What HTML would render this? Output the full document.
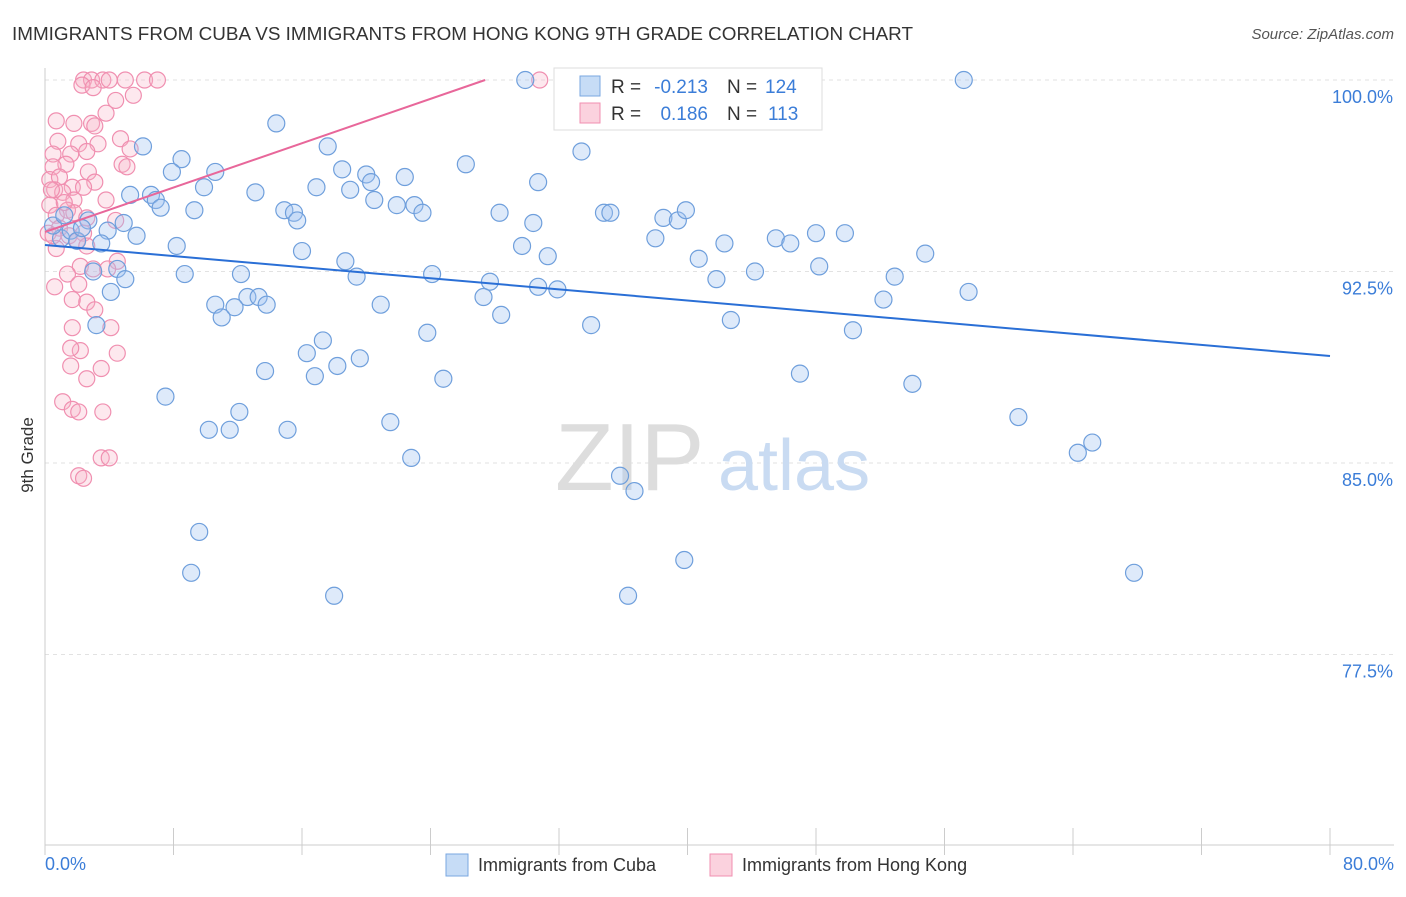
<!DOCTYPE html>
<html><head><meta charset="utf-8"><style>
body{margin:0;background:#fff;font-family:"Liberation Sans",sans-serif;}
svg text{font-family:"Liberation Sans",sans-serif;}
</style></head><body>
<svg width="1406" height="892" xmlns="http://www.w3.org/2000/svg">
<text x="12" y="40" font-size="18" fill="#333" textLength="901" lengthAdjust="spacingAndGlyphs">IMMIGRANTS FROM CUBA VS IMMIGRANTS FROM HONG KONG 9TH GRADE CORRELATION CHART</text>
<text x="1394" y="39" font-size="15" fill="#555" text-anchor="end" font-style="italic">Source: ZipAtlas.com</text>
<g id="grid"></g>
<g id="axes"></g>
<text x="555" y="490" font-size="96" fill="#ddd" font-family="Liberation Serif">ZIP</text>
<text x="718" y="490" font-size="72" fill="#c9dbf2">atlas</text>
<g id="pts"></g>
<g id="trends"></g>
<text x="33" y="455" font-size="17" fill="#333" text-anchor="middle" transform="rotate(-90 33 455)">9th Grade</text>
<text x="45" y="870" font-size="18" fill="#3b7dd8">0.0%</text>
<text x="1394" y="870" font-size="18" fill="#3b7dd8" text-anchor="end">80.0%</text>
<g>
<rect x="554" y="68" width="268" height="62" fill="#fff" stroke="#ddd"/>
<rect x="580" y="76" width="20" height="20" fill="rgba(160,196,240,0.6)" stroke="#7aa7e0"/>
<rect x="580" y="103" width="20" height="20" fill="rgba(248,180,200,0.6)" stroke="#f08fb0"/>
<text x="611" y="93" font-size="19" fill="#333">R =</text>
<text x="708" y="93" font-size="19" fill="#3b7dd8" text-anchor="end">-0.213</text>
<text x="727" y="93" font-size="19" fill="#333">N =</text>
<text x="765" y="93" font-size="19" fill="#3b7dd8">124</text>
<text x="611" y="120" font-size="19" fill="#333">R =</text>
<text x="708" y="120" font-size="19" fill="#3b7dd8" text-anchor="end">0.186</text>
<text x="727" y="120" font-size="19" fill="#333">N =</text>
<text x="768" y="120" font-size="19" fill="#3b7dd8">113</text>
</g>
<g>
<rect x="446" y="854" width="22" height="22" fill="rgba(160,196,240,0.6)" stroke="#7aa7e0"/>
<text x="478" y="871" font-size="18" fill="#333">Immigrants from Cuba</text>
<rect x="710" y="854" width="22" height="22" fill="rgba(248,180,200,0.6)" stroke="#f08fb0"/>
<text x="742" y="871" font-size="18" fill="#333">Immigrants from Hong Kong</text>
</g>
</svg>
<script>
const yTicks=[100,92.5,85,77.5];
const yTickLabels=["100.0%","92.5%","85.0%","77.5%"];
const xTicks=[0,8,16,24,32,40,48,56,64,72,80];
const cubaX=[29.9,57.2,14.4,6.1,17.6,8.5,7.9,10.6,26.2,33.4,18.5,20.0,20.3,22.4,30.7,5.3,6.6,6.9,7.2,9.9,13.1,16.9,19.0,20.5,21.9,23.0,23.5,9.3,14.9,15.5,15.7,28.3,30.4,34.8,35.2,38.5,39.4,39.9,4.9,2.7,3.9,5.7,3.5,8.2,16.0,29.7,38.0,42.3,45.5,46.4,48.0,49.8,54.8,31.3,40.7,18.7,48.2,44.2,52.9,4.5,3.0,8.7,12.2,19.4,24.1,27.7,41.8,5.0,4.1,30.7,31.9,57.5,52.2,27.3,12.6,13.3,10.6,11.8,13.8,20.9,11.0,28.4,3.2,34.0,42.7,50.3,23.8,17.3,16.3,19.6,18.2,13.7,16.8,24.8,47.0,54.0,7.5,12.1,60.6,21.5,11.5,10.2,15.1,65.2,64.3,22.8,35.8,36.7,9.6,39.8,9.1,67.8,18.0,36.3,1.0,0.5,1.6,2.0,1.2,2.3];
const cubaY=[100,100,98.3,97.4,97.4,96.9,96.4,96.4,96.7,97.2,96.5,96.3,96.0,96.2,96.0,95.5,95.5,95.3,95.0,95.8,95.6,95.8,95.7,95.3,95.1,95.1,94.8,94.9,94.9,94.8,94.5,94.8,94.4,94.8,94.8,94.6,94.5,94.9,94.4,94.5,94.1,93.9,93.6,93.5,93.3,93.5,93.8,93.6,93.8,93.6,94.0,94.0,93.2,93.1,93.0,92.9,92.7,92.5,92.3,92.6,92.5,92.4,92.4,92.3,92.4,92.1,92.2,92.2,91.7,91.9,91.8,91.7,91.4,91.5,91.5,91.5,91.2,91.1,91.2,91.2,90.7,90.8,90.4,90.4,90.6,90.2,90.1,89.8,89.3,89.1,88.8,88.6,88.4,88.3,88.5,88.1,87.6,87.0,86.8,86.6,86.3,86.3,86.3,85.8,85.4,85.2,84.5,83.9,82.3,81.2,80.7,80.7,79.8,79.8,93.8,94.3,94.1,93.7,94.7,94.2];
const hkX=[2.4,2.9,3.6,4.0,5.0,6.2,7.0,30.8,2.3,3.0,5.5,4.4,3.8,0.7,1.8,2.9,3.1,4.7,0.8,2.1,3.3,5.3,0.5,1.6,2.6,1.3,4.8,5.1,0.5,2.7,0.3,0.9,3.1,1.7,2.4,0.6,1.1,3.8,1.8,0.3,1.4,1.8,0.7,2.6,4.4,0.9,2.4,1.5,2.0,0.7,2.6,4.5,2.2,3.0,3.9,1.4,0.6,2.1,1.7,2.6,3.1,4.1,1.7,2.2,1.6,4.5,1.6,3.5,2.6,1.1,1.7,3.6,2.1,3.5,4.0,2.1,2.4,0.4,0.2,1.2,0.5];
const hkY=[100,100,100,100,100,100,100,100,99.8,99.7,99.4,99.2,98.7,98.4,98.3,98.3,98.2,97.7,97.6,97.5,97.5,97.3,97.1,97.1,97.2,96.7,96.7,96.6,96.6,96.4,96.1,96.2,96.0,95.8,95.8,95.7,95.6,95.3,95.3,95.1,94.9,94.8,94.7,94.6,94.5,94.2,94.0,93.9,93.7,93.4,93.5,92.9,92.7,92.6,92.6,92.4,91.9,92.0,91.4,91.3,91.0,90.3,90.3,89.4,89.5,89.3,88.8,88.7,88.3,87.4,87.1,87.0,87.0,85.2,85.2,84.5,84.4,95.7,94.0,95.2,93.9];
const cubaTrend=[[0,93.54],[80,89.19]];
const hkTrend=[[0,94.05],[27.4,100]];
const X0=45,X1=1330,Y0=80,Y1=845;
const sx=v=>X0+(v/80)*(X1-X0);
const sy=v=>Y0+(100-v)/7.5*191.5;
const NS="http://www.w3.org/2000/svg";
function mk(tag,attrs,parent){const e=document.createElementNS(NS,tag);for(const k in attrs)e.setAttribute(k,attrs[k]);parent.appendChild(e);return e;}
const grid=document.getElementById('grid'),axes=document.getElementById('axes');
yTicks.forEach((t,i)=>{
 const l=mk('line',{x1:X0,x2:1394,y1:sy(t),y2:sy(t),stroke:'#e2e2e2','stroke-dasharray':'4,4'},grid);
 
 
 const tx=mk('text',{x:1393,y:sy(t)+23,'font-size':18,fill:'#3b7dd8','text-anchor':'end'},grid);
 tx.textContent=yTickLabels[i];
 
 
});
const xa=mk('line',{x1:X0,x2:1394,y1:Y1,y2:Y1,stroke:'#ccc'},axes);


const ya=mk('line',{x1:X0,x2:X0,y1:68,y2:Y1,stroke:'#ccc'},axes);


xTicks.forEach(t=>{
 const l=mk('line',{x1:sx(t),x2:sx(t),y1:828,y2:Y1+10,stroke:'#ccc'},axes);
 
 
});
const pts=document.getElementById('pts');
hkX.forEach((x,i)=>{
 const c=mk('circle',{cx:sx(x),cy:sy(hkY[i]),r:8,fill:'rgba(248,180,200,0.3)',stroke:'#f08fb0','stroke-width':1.2},pts);
 
 
});
cubaX.forEach((x,i)=>{
 const c=mk('circle',{cx:sx(x),cy:sy(cubaY[i]),r:8.5,fill:'rgba(160,196,240,0.35)',stroke:'#6f9fdc','stroke-width':1.2},pts);
 
 
});
const tr=document.getElementById('trends');
const t1=mk('line',{x1:sx(cubaTrend[0][0]),y1:sy(cubaTrend[0][1]),x2:sx(cubaTrend[1][0]),y2:sy(cubaTrend[1][1]),stroke:'#2a6fd6','stroke-width':2},tr);


const t2=mk('line',{x1:sx(hkTrend[0][0]),y1:sy(hkTrend[0][1]),x2:sx(hkTrend[1][0]),y2:sy(hkTrend[1][1]),stroke:'#e8679a','stroke-width':2},tr);


</script>
</body></html>
